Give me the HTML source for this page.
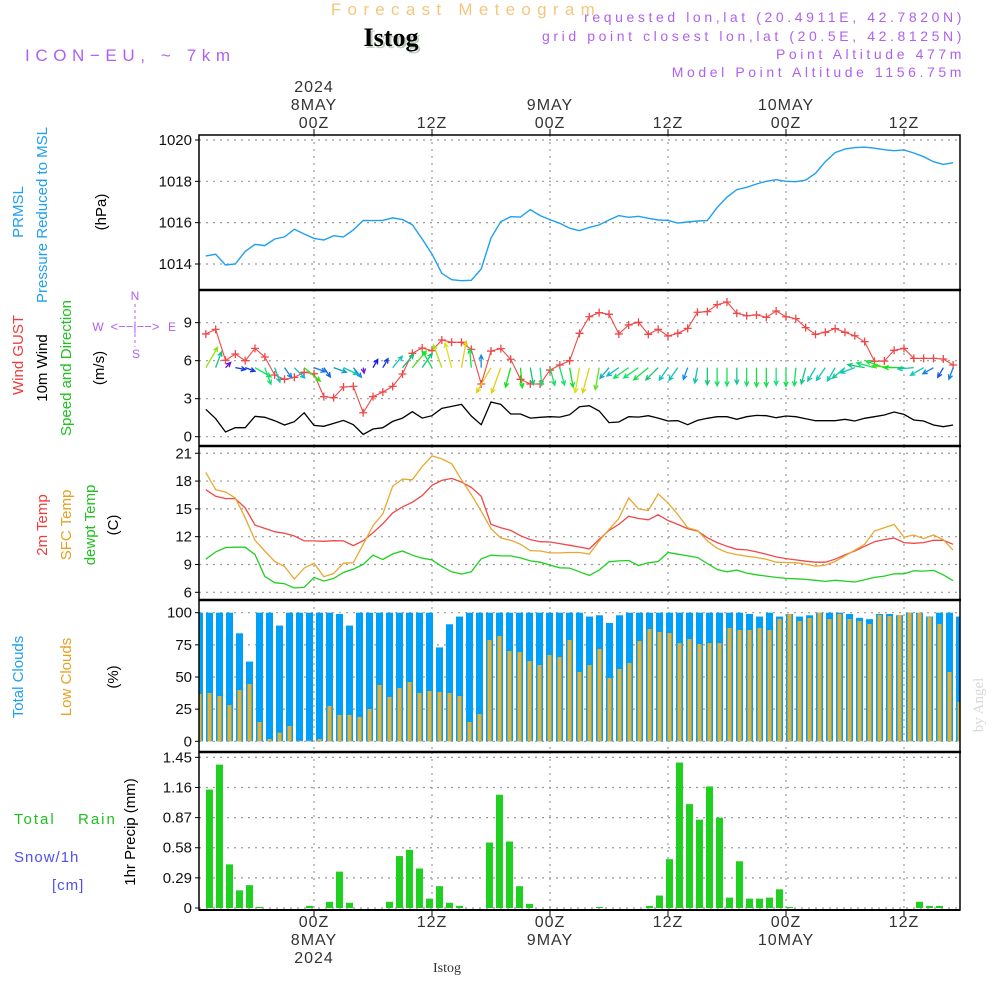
<!DOCTYPE html>
<html><head><meta charset="utf-8">
<style>
html,body{margin:0;padding:0;background:#fff;}
svg{display:block;font-family:"Liberation Sans",sans-serif;}
.tk{font-size:15px;fill:#111;text-anchor:end;}
.tl{font-size:16px;fill:#333;text-anchor:middle;letter-spacing:1px;}
.pl{font-size:14px;fill:#b060f0;text-anchor:end;letter-spacing:3.6px;}
.lb{font-size:15px;text-anchor:middle;}
</style></head>
<body>
<svg id="chart" width="1000" height="1000" viewBox="0 0 1000 1000">
<text x="466" y="15" font-size="17" fill="#f3c77e" text-anchor="middle" letter-spacing="6.3">Forecast Meteogram</text>
<text x="393" y="48" font-size="26" font-weight="bold" font-family="Liberation Serif,serif" fill="#c0d0c0" text-anchor="middle">Istog</text>
<text x="391" y="46" font-size="26" font-weight="bold" font-family="Liberation Serif,serif" fill="#000" text-anchor="middle">Istog</text>
<text x="25" y="61" font-size="17" fill="#b060f0" letter-spacing="5.6">ICON−EU, ~ 7km</text>
<text x="965" y="22" class="pl">requested lon,lat (20.4911E, 42.7820N)</text>
<text x="965" y="41" class="pl">grid point closest lon,lat (20.5E, 42.8125N)</text>
<text x="965" y="59" class="pl">Point Altitude 477m</text>
<text x="965" y="77" class="pl">Model Point Altitude 1156.75m</text>

<g>
<text x="314" y="92" class="tl">2024</text><text x="314" y="110" class="tl">8MAY</text><text x="314" y="128" class="tl">00Z</text>
<text x="432" y="128" class="tl">12Z</text>
<text x="550" y="110" class="tl">9MAY</text><text x="550" y="128" class="tl">00Z</text>
<text x="668" y="128" class="tl">12Z</text>
<text x="786" y="110" class="tl">10MAY</text><text x="786" y="128" class="tl">00Z</text>
<text x="904" y="128" class="tl">12Z</text>
</g>
<g>
<text x="314" y="927" class="tl">00Z</text><text x="314" y="945" class="tl">8MAY</text><text x="314" y="963" class="tl">2024</text>
<text x="432" y="927" class="tl">12Z</text>
<text x="550" y="927" class="tl">00Z</text><text x="550" y="945" class="tl">9MAY</text>
<text x="668" y="927" class="tl">12Z</text>
<text x="786" y="927" class="tl">00Z</text><text x="786" y="945" class="tl">10MAY</text>
<text x="904" y="927" class="tl">12Z</text>
<text x="447" y="972" font-size="14" font-family="Liberation Serif,serif" fill="#333" text-anchor="middle">Istog</text>
</g>

<g>
<text transform="translate(23,212) rotate(-90)" class="lb" fill="#1ea0f0">PRMSL</text>
<text transform="translate(47,215) rotate(-90)" class="lb" fill="#1ea0f0">Pressure Reduced to MSL</text>
<text transform="translate(106,212) rotate(-90)" class="lb" fill="#000">(hPa)</text>
</g>
<g>
<text transform="translate(23,355) rotate(-90)" class="lb" fill="#f03c3c">Wind GUST</text>
<text transform="translate(47,368) rotate(-90)" class="lb" fill="#000">10m Wind</text>
<text transform="translate(71,368) rotate(-90)" class="lb" fill="#20c020">Speed and Direction</text>
<text transform="translate(104,368) rotate(-90)" class="lb" fill="#000">(m/s)</text>
<g fill="#b060f0" font-size="12" text-anchor="middle">
<text x="135" y="300">N</text><text x="136" y="358">S</text><text x="98" y="331">W</text><text x="172" y="331">E</text>
<text x="135" y="331" font-size="13">&lt;−−|−−&gt;</text>
<line x1="135" y1="304" x2="135" y2="347" stroke="#b060f0" stroke-dasharray="3,3"/>
</g>
</g>
<g>
<text transform="translate(47,525) rotate(-90)" class="lb" fill="#f03c3c">2m Temp</text>
<text transform="translate(71,525) rotate(-90)" class="lb" fill="#e8a020">SFC Temp</text>
<text transform="translate(95,525) rotate(-90)" class="lb" fill="#20c020">dewpt Temp</text>
<text transform="translate(118,525) rotate(-90)" class="lb" fill="#000">(C)</text>
</g>
<g>
<text transform="translate(23,677) rotate(-90)" class="lb" fill="#1ea0f0">Total Clouds</text>
<text transform="translate(71,677) rotate(-90)" class="lb" fill="#e8a020">Low Clouds</text>
<text transform="translate(118,677) rotate(-90)" class="lb" fill="#000">(%)</text>
</g>
<g>
<text x="14" y="824" font-size="15" fill="#20c020" letter-spacing="2">Total</text>
<text x="78" y="824" font-size="15" fill="#20c020" letter-spacing="2">Rain</text>
<text x="14" y="862" font-size="15" fill="#5050f0" letter-spacing="1">Snow/1h</text>
<text x="52" y="890" font-size="15" fill="#5050f0" letter-spacing="1">[cm]</text>
<text transform="translate(135,832) rotate(-90)" class="lb" fill="#000">1hr Precip (mm)</text>
</g>
<text transform="translate(983,705) rotate(-90)" font-size="15" font-family="Liberation Serif,serif" fill="#d8d8d8" text-anchor="middle">by Angel</text>
<g id="plots"></g>
</svg>
<script>
const pressure=[1014.39,1014.47,1013.95,1014.0,1014.61,1014.95,1014.89,1015.21,1015.31,1015.68,1015.45,1015.24,1015.16,1015.37,1015.31,1015.65,1016.11,1016.10,1016.11,1016.23,1016.15,1015.9,1015.21,1014.48,1013.55,1013.24,1013.19,1013.21,1013.76,1015.26,1016.05,1016.29,1016.27,1016.63,1016.34,1016.15,1015.97,1015.73,
1015.61,1015.77,1015.89,1016.13,1016.34,1016.26,1016.31,1016.21,1016.13,1016.11,1015.98,1016.03,1016.08,1016.1,1016.74,1017.23,1017.6,1017.71,1017.87,1018.0,1018.08,1018.0,1017.98,1018.06,1018.39,1018.95,1019.39,1019.56,1019.63,1019.65,1019.6,1019.53,1019.48,1019.52,1019.37,1019.19,1018.95,1018.82,1018.9];
const wind10m=[2.16,1.42,0.37,0.71,0.71,1.61,1.53,1.26,0.92,1.18,1.89,0.89,0.82,1.05,1.29,0.95,0.18,0.61,0.71,1.21,1.47,1.97,1.47,1.66,2.24,2.39,2.55,1.63,0.95,2.74,2.55,1.79,1.79,1.47,1.53,1.58,1.55,1.74,
2.37,2.45,2.03,1.11,1.16,1.58,1.55,1.66,1.47,1.24,1.26,0.95,1.29,1.45,1.58,1.58,1.37,1.58,1.68,1.66,1.5,1.63,1.58,1.42,1.26,1.26,1.26,1.37,1.24,1.45,1.58,1.71,1.95,1.76,1.32,1.24,0.92,0.79,0.92];
const gust=[8.11,8.47,6.03,6.53,6.0,6.97,6.29,4.87,4.53,4.68,5.08,4.97,3.16,3.08,3.92,3.97,1.89,3.16,3.53,3.97,4.95,6.58,7.0,6.79,7.63,7.45,7.45,6.89,4.16,6.76,6.95,6.11,4.53,4.16,4.16,5.26,5.66,6.0,
8.16,9.47,9.79,9.66,8.11,8.82,9.03,8.08,8.47,7.95,8.16,8.55,9.82,9.87,10.42,10.63,9.74,9.55,9.61,9.42,9.92,9.47,9.32,8.61,8.08,8.24,8.53,8.24,7.97,7.5,5.95,5.97,6.82,6.97,6.18,6.18,6.18,6.13,5.66];
const windDir=[30,20,45,100,110,120,160,160,145,135,130,110,145,110,115,140,170,30,30,40,40,40,35,330,340,345,10,355,0,210,200,195,175,170,175,165,165,170,
190,195,190,220,235,235,235,230,225,215,215,200,190,180,180,180,180,180,180,180,180,180,185,195,210,215,210,230,250,280,285,290,275,270,265,240,240,210,200];
const temp2m=[17.07,16.36,16.11,16.11,15.11,13.25,12.89,12.54,12.36,12.07,11.54,11.54,11.5,11.57,11.54,11.04,11.57,12.43,13.39,14.57,15.21,15.71,16.43,17.54,18.07,18.29,17.89,17.32,16.36,13.32,12.96,12.68,12.11,11.68,11.46,11.43,11.25,11.07,
10.89,10.68,11.71,12.68,13.32,14.21,13.96,13.82,14.36,13.75,13.32,12.86,12.61,11.89,11.36,10.96,10.64,10.57,10.36,10.11,9.82,9.64,9.5,9.36,9.25,9.25,9.57,10.04,10.46,10.96,11.46,11.68,11.86,11.36,11.29,11.36,11.61,11.61,11.18];
const tempSfc=[18.93,17.07,16.82,16.18,14.04,11.61,10.46,9.32,8.79,7.43,8.61,9.14,7.68,8.04,9.14,9.18,11.18,13.18,14.46,17.46,18.21,18.14,19.57,20.71,20.39,19.86,18.14,16.54,14.75,12.86,11.86,11.61,11.18,10.5,10.46,10.25,10.25,10.29,
10.29,10.11,11.54,12.79,13.96,16.18,15.0,14.82,16.61,15.64,14.39,12.96,12.68,11.54,10.75,10.29,10.07,9.89,9.75,9.57,9.25,9.21,9.18,9.04,8.82,8.93,9.32,9.93,10.54,11.18,12.61,12.96,13.32,11.96,12.18,11.79,12.18,11.68,10.54];
const dewpt=[9.57,10.36,10.82,10.86,10.86,10.07,7.71,7.04,6.93,6.46,6.54,7.61,7.21,7.5,8.14,8.5,9.0,10.0,9.54,10.14,10.46,10.0,9.68,9.5,8.79,8.21,7.96,8.21,9.61,10.0,9.93,9.93,9.71,9.39,9.25,8.93,8.64,8.61,
8.21,7.82,8.39,9.29,9.39,9.43,8.89,9.18,9.32,10.29,10.11,9.93,9.75,9.11,8.46,8.21,8.39,8.07,7.89,7.75,7.61,7.5,7.46,7.39,7.29,7.18,7.29,7.21,7.11,7.36,7.61,7.75,8.0,8.0,8.32,8.29,8.36,7.89,7.25];
const totalClouds=[100,100,100,100,84,62,100,100,90,100,100,100,100,100,99,90,100,100,100,100,100,100,100,100,73,91,97,100,100,100,100,100,100,100,100,100,100,100,100,
97,98,92,98,100,100,100,100,100,100,100,100,100,100,100,100,99,97,100,97,99,97,98,100,100,100,99,96,95,99,99,98,100,100,97,100,100,97];
const lowClouds=[36.8,37.6,35.2,28.2,39.9,44.6,15.0,1.8,6.7,11.9,0.5,0.5,1.8,27.5,20.5,20.5,18.9,25.1,43.8,34.5,41.5,46.1,37.6,39.1,38.3,37.6,35.2,15.0,21.2,78.8,81.9,70.2,69.4,62.4,59.3,67.1,65.5,78.8,53.9,
59.3,71.8,49.2,56.2,60.9,78.0,87.3,85.0,84.2,76.4,79.5,75.6,76.4,76.4,88.1,86.5,86.5,88.1,86.5,95.1,99.0,93.5,95.9,100,95.1,99.0,95.1,93.5,91.2,98.2,97.4,98.2,100,100,96.6,91.2,53.9,30.6];
const precip=[0,1.14,1.38,0.42,0.17,0.22,0.01,0,0,0,0,0.02,0,0.06,0.35,0.05,0,0,0,0.06,0.5,0.56,0.38,0.09,0.21,0.05,0.02,0,0,0.63,1.09,0.64,0.21,0.04,0,0,0,0,0,0,
0.01,0,0,0,0,0.02,0.12,0.47,1.40,1.0,0.85,1.17,0.87,0.1,0.45,0.09,0.09,0.1,0.18,0.01,0,0,0,0,0,0,0,0,0,0,0,0,0.06,0.02,0.02,0,0];
const pTicks=[1014,1016,1018,1020];
const wTicks=[0,3,6,9];
const tTicks=[6,9,12,15,18,21];
const cTicks=[0,25,50,75,100];
const rTicks=[0,0.29,0.58,0.87,1.16,1.45];

const NS='http://www.w3.org/2000/svg';
const root=document.getElementById('plots');
function el(tag,attrs,parent){const e=document.createElementNS(NS,tag);for(const k in attrs)e.setAttribute(k,attrs[k]);(parent||root).appendChild(e);return e;}
const X0=199,X1=960;
const xLine=i=>314+(i-11)*9.833;
const xBar=j=>199.5+10*j;
const panels=[
 {name:'pressure',top:135,bot:289,y:v=>264-(v-1014)*20.67,ticks:pTicks,fmt:v=>v},
 {name:'wind',top:290,bot:446,y:v=>436.7-v*12.67,ticks:wTicks,fmt:v=>v},
 {name:'temp',top:446,bot:600,y:v=>592.3-(v-6)*9.27,ticks:tTicks,fmt:v=>v},
 {name:'cloud',top:600,bot:752,y:v=>741.3-v*1.286,ticks:cTicks,fmt:v=>v},
 {name:'precip',top:752,bot:910,y:v=>908-v*103.9,ticks:rTicks,fmt:v=>v===0?'0':v.toFixed(2)}
];
const P={};panels.forEach(p=>P[p.name]=p);
const clipDefs=el('defs',{});
panels.forEach(p=>{
 const g=el('g',{});
 
 
 p.g=g;
 const cp=el('clipPath',{id:'clip-'+p.name},clipDefs);
 el('rect',{x:X0,y:p.top,width:X1-X0,height:p.bot-p.top},cp);
 const grid=el('g',{stroke:'#999','stroke-dasharray':'2,5','stroke-width':1.2},g);
 
 
 p.ticks.forEach(t=>{const y=p.y(t);el('line',{x1:X0,x2:X1,y1:y,y2:y},grid);});
 [314,432,550,668,786,904].forEach(x=>el('line',{x1:x,x2:x,y1:p.top,y2:p.bot},grid));
 p.ticks.forEach(t=>{const y=p.y(t);
  el('line',{x1:X0-4,x2:X0,y1:y,y2:y,stroke:'#000'},g);
  const tx=el('text',{x:X0-7,y:y+5,class:'tk'},g);tx.textContent=p.fmt(t);
  
  
 });
 p.data=el('g',{'clip-path':'url(#clip-'+p.name+')'},g);
});
function line(p,arr,color,name,w){
 const pts=arr.map((v,i)=>xLine(i).toFixed(1)+','+p.y(v).toFixed(1)).join(' ');
 const l=el('polyline',{points:pts,fill:'none',stroke:color,'stroke-width':w||1.3},p.data);
 
 
 return l;
}
line(P.pressure,pressure,'#1ea0f0','pressure-line',1.4);
line(P.wind,wind10m,'#000','wind-10m-line',1.3);
line(P.wind,gust,'#f04848','gust-line',1.1);
gust.forEach((v,i)=>{const x=xLine(i),y=P.wind.y(v);
 const m=el('path',{d:`M${x-4},${y}h8M${x},${y-4}v8`,stroke:'#f04848','stroke-width':1.3},P.wind.data);
 
 
});
const baseY=P.wind.y(5.45);
windDir.forEach((d,i)=>{
 const s=wind10m[i];const L=9*s+4;const a=d*Math.PI/180;
 const x0=xLine(i),y0=baseY,x1=x0+L*Math.sin(a),y1=y0-L*Math.cos(a);
 let h=250-(s-0.5)/2.0*200;h=Math.max(55,Math.min(270,h));
 const c=`hsl(${h},85%,${h>150&&h<200?42:48}%)`;
 const ha=0.45,hl=5;const b=Math.atan2(y1-y0,x1-x0);
 const d1=`M${x0},${y0}L${x1},${y1}M${x1-hl*Math.cos(b-ha)},${y1-hl*Math.sin(b-ha)}L${x1},${y1}L${x1-hl*Math.cos(b+ha)},${y1-hl*Math.sin(b+ha)}`;
 const ar=el('path',{d:d1,stroke:c,'stroke-width':1.3,fill:'none'},P.wind.data);
 
 
});
line(P.temp,temp2m,'#f04848','temp-2m-line',1.3);
line(P.temp,tempSfc,'#e8a830','temp-sfc-line',1.3);
line(P.temp,dewpt,'#20d020','dewpoint-line',1.3);
totalClouds.forEach((v,j)=>{const y=P.cloud.y(v);
 const r=el('rect',{x:xBar(j)-3.5,y:y,width:7,height:P.cloud.y(0)-y,fill:'#00a0f8'},P.cloud.data);
 
 
});
lowClouds.forEach((v,j)=>{const y=P.cloud.y(v);
 const r=el('rect',{x:xBar(j)-2,y:y,width:4,height:P.cloud.y(0)-y,fill:'#e8b030'},P.cloud.data);
 
 
});
precip.forEach((v,j)=>{if(v<=0)return;const y=P.precip.y(v);
 const r=el('rect',{x:xBar(j)-3.5,y:y,width:7,height:P.precip.y(0)-y,fill:'#20d020'},P.precip.data);
 
 
});
const fr=el('g',{fill:'none',stroke:'#000'});


el('rect',{x:X0,y:135,width:X1-X0,height:910-135,'stroke-width':1.5},fr);
[290,446,600,752].forEach(y=>el('line',{x1:X0,x2:X1+1,y1:y,y2:y,'stroke-width':2.5},fr));
el('line',{x1:X0,x2:X1,y1:910,y2:910,'stroke-width':2},fr);
[314,432,550,668,786,904].forEach(x=>{el('line',{x1:x,x2:x,y1:129,y2:135},fr);el('line',{x1:x,x2:x,y1:910,y2:916},fr);});
</script>
</body></html>
